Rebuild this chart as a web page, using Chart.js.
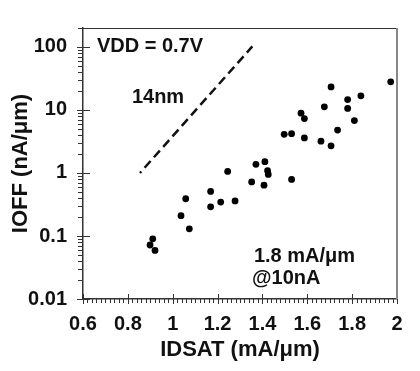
<!DOCTYPE html>
<html><head><meta charset="utf-8">
<script src="https://cdn.jsdelivr.net/npm/chart.js@4"></script>
<style>html,body{margin:0;padding:0;background:#fff}#wrap{width:420px;height:371px}</style>
</head><body><div id="wrap"><canvas id="c" width="420" height="371"></canvas></div>
<script>
// Measured devices: IDSAT (mA/um) vs IOFF (nA/um)
const idsat = [1.972,1.706,1.839,1.780,1.780,1.676,1.810,1.572,1.587,1.735,1.497,1.530,1.587,1.661,1.706,1.371,1.411,1.423,1.426,1.245,1.352,1.407,1.530,1.169,1.169,1.214,1.278,1.058,1.037,1.074,0.911,0.899,0.921];
const ioff  = [28,23.2,16.8,14.6,10.6,11.2,6.8,8.9,7.3,4.8,4.1,4.2,3.6,3.2,2.7,1.37,1.51,1.09,0.95,1.06,0.72,0.64,0.79,0.51,0.29,0.345,0.36,0.39,0.21,0.13,0.09,0.072,0.059];
// 14nm reference trend (dashed)
const trendX = [0.854, 1.355];
const trendY = [1, 102];
const xTicks = [0.6,0.8,1,1.2,1.4,1.6,1.8,2];
const yTicks = [0.01,0.1,1,10,100];
const noteText = ['VDD = 0.7V','14nm','1.8 mA/\u03bcm','@10nA'];
const noteX = [0.662,0.818,1.362,1.354];
const noteY = [100,15.8,0.048,0.021];

const FONT = '"Liberation Sans", Arial, sans-serif';

const deco = {
  id:'deco',
  afterDraw(chart){
    const ctx = chart.ctx, xs = chart.scales.x, ys = chart.scales.y, a = chart.chartArea;
    ctx.save();
    ctx.strokeStyle = '#333'; ctx.lineWidth = 1;
    ctx.beginPath();
    for (let i = 30; i <= 100; i++) {
      const px = Math.round(xs.getPixelForValue(i/50)) + 0.5;
      ctx.moveTo(px, a.bottom); ctx.lineTo(px, a.bottom + 4);
    }
    xTicks.forEach(v => { const px = Math.round(xs.getPixelForValue(v)) + 0.5; ctx.moveTo(px, a.bottom - 5); ctx.lineTo(px, a.bottom + 5); });
    for (let d = 0; d < yTicks.length; d++) {
      for (let m = 2; m <= 9; m++) {
        const v = yTicks[d] * m; if (v > ys.max) break;
        const py = Math.round(ys.getPixelForValue(v)) + 0.5;
        ctx.moveTo(a.left - 5, py); ctx.lineTo(a.left, py);
      }
    }
    yTicks.forEach(v => { const py = Math.round(ys.getPixelForValue(v)) + 0.5; ctx.moveTo(a.left - 6, py); ctx.lineTo(a.left + 7, py); });
    ctx.stroke();
    ctx.strokeStyle = '#333'; ctx.lineWidth = 1;
    ctx.beginPath(); ctx.moveTo(a.left, a.top + 0.5); ctx.lineTo(a.right, a.top + 0.5); ctx.stroke();
    ctx.strokeStyle = '#888'; ctx.lineWidth = 2;
    ctx.beginPath(); ctx.moveTo(a.right, a.top); ctx.lineTo(a.right, a.bottom); ctx.stroke();
    ctx.fillStyle = '#111'; ctx.font = 'bold 20px ' + FONT; ctx.textBaseline = 'middle'; ctx.textAlign = 'left';
    noteText.forEach((t, i) => ctx.fillText(t, xs.getPixelForValue(noteX[i]), ys.getPixelForValue(noteY[i])));
    ctx.restore();
  }
};

new Chart(document.getElementById('c'), {
  type: 'scatter',
  data: {
    datasets: [
      { data: idsat.map((x, i) => ({x, y: ioff[i]})), backgroundColor: '#000', borderWidth: 0, pointRadius: 3.4 },
      { type: 'line', data: trendX.map((x, i) => ({x, y: trendY[i]})), borderColor: '#111', borderWidth: 2.5,
        borderDash: [9, 5], borderDashOffset: 7, pointRadius: 0, showLine: true, fill: false }
    ]
  },
  options: {
    responsive: false, animation: false, devicePixelRatio: 1,
    layout: { padding: { top: 13, right: 23, left: 0, bottom: 0 } },
    plugins: { legend: { display: false }, tooltip: { enabled: false } },
    scales: {
      x: {
        type: 'linear', min: 0.6, max: 2,
        afterBuildTicks: s => { s.ticks = xTicks.map(v => ({value: v})); },
        afterFit: s => { s.height = 72; },
        ticks: { callback: v => String(v), color: '#111', font: { family: FONT, size: 20, weight: 'bold' }, padding: 13, maxRotation: 0, autoSkip: false },
        grid: { display: false, drawTicks: false },
        border: { display: true, color: '#333', width: 1.5 },
        title: { display: true, text: 'IDSAT (mA/\u03bcm)', color: '#111', font: { family: FONT, size: 22, weight: 'bold' }, padding: { top: 0, bottom: 8 } }
      },
      y: {
        type: 'logarithmic', min: 0.01, max: 200,
        afterBuildTicks: s => { s.ticks = yTicks.map(v => ({value: v})); },
        afterFit: s => { s.width = 83; },
        ticks: { callback: v => String(v), color: '#111', font: { family: FONT, size: 20, weight: 'bold' }, padding: 16, autoSkip: false },
        grid: { display: false, drawTicks: false },
        border: { display: true, color: '#333', width: 1.5 },
        title: { display: true, text: 'IOFF (nA/\u03bcm)', color: '#111', font: { family: FONT, size: 22, weight: 'bold' }, padding: { top: 8, bottom: 0 } }
      }
    }
  },
  plugins: [deco]
});
</script></body></html>
